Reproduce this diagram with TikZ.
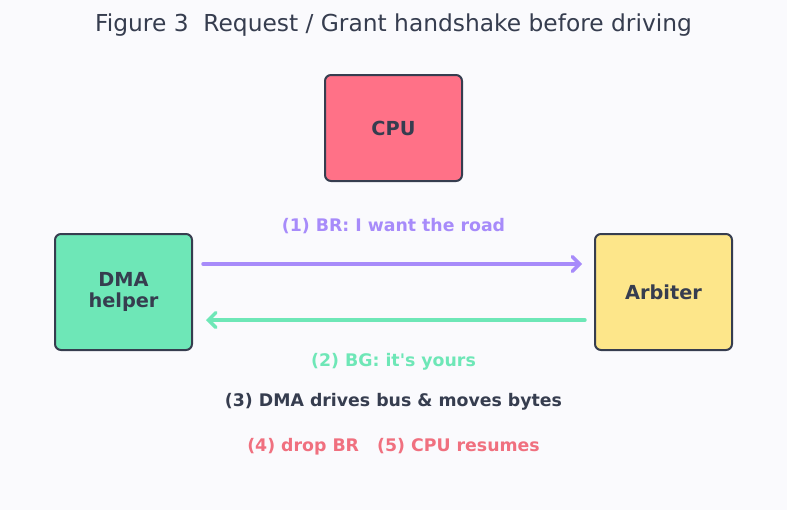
\documentclass[tikz,border=0pt]{standalone}
\usepackage{fontspec}
\setmainfont{DejaVu Sans}
\usetikzlibrary{arrows.meta}
\definecolor{bg}{HTML}{FAFAFD}
\definecolor{ink}{HTML}{363D4F}
\definecolor{cpuc}{HTML}{FF7187}
\definecolor{dmac}{HTML}{6EE7B7}
\definecolor{arbc}{HTML}{FDE68A}
\definecolor{purp}{HTML}{A78BFA}
\definecolor{redt}{HTML}{F0707F}
\tikzset{
  box/.style={draw=ink, line width=1.5pt, rounded corners=4.5pt, minimum width=102.75pt, align=center, font=\bfseries\fontsize{14.5}{15}\selectfont, text=ink},
  lbl/.style={font=\bfseries\fontsize{13}{15}\selectfont},
  conn/.style={line width=2.6pt, line cap=round, -{Straight Barb[length=5.5pt,width=11pt,line cap=round]}}
}
\begin{document}
\begin{tikzpicture}[x=0.75pt,y=-0.75pt]
\path[fill=bg] (0,0) rectangle (787,510);
\useasboundingbox (0,0) rectangle (787,510);
\node[font=\fontsize{17.5}{20}\selectfont, text=ink] (title) at (393.5,25) {Figure 3\ \ Request / Grant handshake before driving};
\node[box, fill=cpuc, minimum height=79.5pt] (cpu) at (393.5,128) {CPU};
\node[box, fill=dmac, minimum height=87pt] (dma) at (123.5,292) {DMA\\[0.5pt]helper};
\node[box, fill=arbc, minimum height=87pt] (arb) at (663.5,292) {Arbiter};
\coordinate (a1s) at (203,264);
\coordinate (a1e) at (582,264);
\coordinate (a2s) at (585,320);
\coordinate (a2e) at (206,320);
\draw[conn, purp] (a1s) -- (a1e);
\draw[conn, dmac] (a2s) -- (a2e);
\node[lbl, text=purp] (l1) at (393.5,226) {(1) BR: I want the road};
\node[lbl, text=dmac] (l2) at (393.5,362) {(2) BG: it\textquotesingle s yours};
\node[lbl, text=ink] (l3) at (393.5,402) {(3) DMA drives bus \& moves bytes};
\node[lbl, text=redt] (l4) at (393.5,447) {(4) drop BR\ \ \ (5) CPU resumes};
\end{tikzpicture}
\end{document}
